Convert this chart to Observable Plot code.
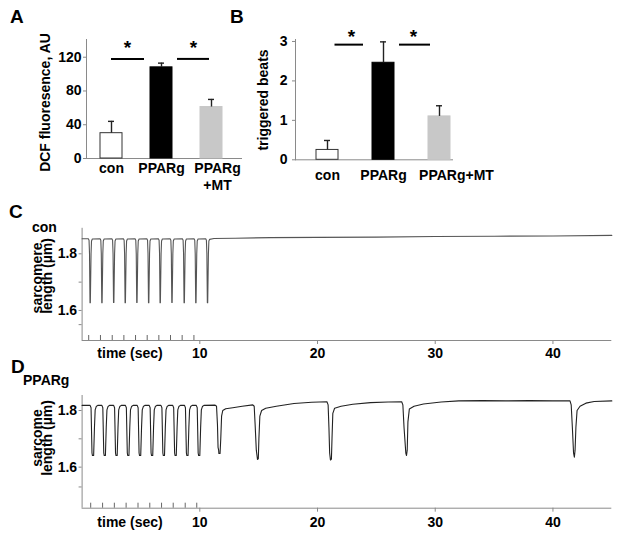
<!DOCTYPE html>
<html><head><meta charset="utf-8">
<script src="https://cdn.jsdelivr.net/npm/d3@7"></script>
<script src="https://cdn.jsdelivr.net/npm/@observablehq/plot@0.6"></script>
<style>
body{margin:0;background:#fff;}
#fig{position:relative;width:621px;height:537px;overflow:hidden;background:#fff;}
#fig > div{position:absolute;}
</style></head><body><div id="fig"></div>
<script>
// ---------- data ----------
const categories = ["con", "PPARg", "PPARg+MT"];
const dcfMean = [30, 108, 61];
const dcfErr = [14, 5, 9];
const dcfTicks = [0, 40, 80, 120];
const dcfSigLevel = 118;
const beatsMean = [0.25, 2.46, 1.1];
const beatsErr = [0.24, 0.53, 0.27];
const beatsTicks = [0, 1, 2, 3];
const beatsSigLevel = 2.92;
const sigPairs = [["con", "PPARg"], ["PPARg", "PPARg+MT"]];
const timeTicks = [10, 20, 30, 40];
const lengthTicks = [1.6, 1.8];
const conMinorTicks = [1.7, 1.55];
const pparMinorTicks = [1.7, 1.53];
const conStim = [0.56, 1.56, 2.56, 3.55, 4.54, 5.53, 6.52, 7.51, 8.5, 9.5];
const pparStim = [0.73, 1.74, 2.74, 3.74, 4.75, 5.75, 6.75, 7.74, 8.76, 9.74];
const conTrace = [
  [0,1.853],[0.53,1.853],[0.59,1.848],[0.63,1.80],[0.67,1.627],[0.70,1.627],[0.76,1.80],[0.80,1.845],[0.87,1.852],
  [1.53,1.853],[1.59,1.848],[1.63,1.80],[1.67,1.627],[1.70,1.627],[1.76,1.80],[1.80,1.845],[1.87,1.852],
  [2.53,1.853],[2.59,1.848],[2.63,1.80],[2.67,1.628],[2.70,1.628],[2.76,1.80],[2.80,1.845],[2.87,1.852],
  [3.51,1.853],[3.57,1.848],[3.61,1.80],[3.65,1.627],[3.68,1.627],[3.74,1.80],[3.78,1.845],[3.85,1.852],
  [4.50,1.853],[4.56,1.848],[4.60,1.80],[4.64,1.628],[4.67,1.628],[4.73,1.80],[4.77,1.845],[4.84,1.852],
  [5.50,1.853],[5.56,1.848],[5.60,1.80],[5.64,1.627],[5.67,1.627],[5.73,1.80],[5.77,1.845],[5.84,1.852],
  [6.48,1.853],[6.54,1.848],[6.58,1.80],[6.62,1.627],[6.65,1.627],[6.71,1.80],[6.75,1.845],[6.82,1.852],
  [7.48,1.853],[7.54,1.848],[7.58,1.80],[7.62,1.628],[7.65,1.628],[7.71,1.80],[7.75,1.845],[7.82,1.852],
  [8.52,1.853],[8.58,1.848],[8.62,1.80],[8.66,1.627],[8.69,1.627],[8.75,1.80],[8.79,1.845],[8.86,1.852],
  [9.51,1.853],[9.57,1.848],[9.61,1.80],[9.65,1.627],[9.68,1.627],[9.74,1.80],[9.78,1.845],[9.85,1.852],
  [10.50,1.853],[10.56,1.848],[10.60,1.80],[10.64,1.627],[10.67,1.627],[10.73,1.80],[10.77,1.845],[10.84,1.851],
  [11.2,1.854],[13,1.855],[16,1.857],[20,1.858],[25,1.859],[30,1.861],[35,1.862],[40,1.863],[45,1.865]
];
const pparTrace = [
  [0,1.818],
  [0.68,1.818],[0.76,1.81],[0.84,1.65],[0.88,1.641],[0.98,1.641],[1.05,1.74],[1.11,1.802],[1.20,1.814],[1.33,1.818],
  [1.68,1.818],[1.76,1.81],[1.84,1.65],[1.88,1.641],[1.98,1.641],[2.05,1.74],[2.11,1.802],[2.20,1.814],[2.33,1.818],
  [2.68,1.818],[2.76,1.81],[2.84,1.65],[2.88,1.641],[2.98,1.641],[3.05,1.74],[3.11,1.802],[3.20,1.814],[3.33,1.818],
  [3.68,1.818],[3.76,1.81],[3.84,1.65],[3.88,1.641],[3.98,1.641],[4.05,1.74],[4.11,1.802],[4.20,1.814],[4.33,1.818],
  [4.68,1.818],[4.76,1.81],[4.84,1.65],[4.88,1.641],[4.98,1.641],[5.05,1.74],[5.11,1.802],[5.20,1.814],[5.33,1.818],
  [5.70,1.818],[5.78,1.81],[5.86,1.65],[5.90,1.641],[6.00,1.641],[6.07,1.74],[6.13,1.802],[6.22,1.814],[6.35,1.818],
  [6.70,1.818],[6.78,1.81],[6.86,1.65],[6.90,1.641],[7.00,1.641],[7.07,1.74],[7.13,1.802],[7.22,1.814],[7.35,1.818],
  [7.70,1.818],[7.78,1.81],[7.86,1.65],[7.90,1.641],[8.00,1.641],[8.07,1.74],[8.13,1.802],[8.22,1.814],[8.35,1.818],
  [8.70,1.818],[8.78,1.81],[8.86,1.65],[8.90,1.641],[9.00,1.641],[9.07,1.74],[9.13,1.802],[9.22,1.814],[9.35,1.818],
  [9.70,1.818],[9.78,1.81],[9.86,1.65],[9.90,1.641],[10.00,1.641],[10.07,1.74],[10.13,1.802],[10.22,1.814],[10.35,1.818],
  [11.3,1.819],[11.42,1.815],[11.5,1.75],[11.55,1.67],[11.6,1.66],[11.62,1.648],[11.72,1.648],[11.78,1.70],[11.85,1.78],
  [11.95,1.80],[12.2,1.806],[12.8,1.81],[13.6,1.815],[14.5,1.82],[14.62,1.815],[14.7,1.75],[14.8,1.66],[14.9,1.627],
  [14.97,1.63],[15.02,1.70],[15.1,1.78],[15.25,1.80],[15.6,1.808],[16.5,1.815],[18,1.825],[19.5,1.829],[20.8,1.831],
  [20.9,1.82],[20.97,1.74],[21.03,1.65],[21.1,1.625],[21.18,1.628],[21.23,1.70],[21.3,1.79],[21.45,1.808],[22,1.815],
  [23,1.822],[24.5,1.828],[26,1.83],[27.15,1.831],[27.25,1.82],[27.35,1.74],[27.5,1.65],[27.56,1.641],[27.62,1.66],
  [27.68,1.76],[27.8,1.805],[28.2,1.815],[29,1.823],[30.5,1.83],[32,1.834],[34,1.835],[36,1.834],[38,1.835],[40,1.834],
  [41.45,1.834],[41.55,1.82],[41.65,1.74],[41.75,1.65],[41.82,1.635],[41.88,1.66],[41.95,1.74],[42.05,1.80],[42.3,1.815],
  [42.8,1.826],[43.5,1.832],[45,1.834]
];

// ---------- styles ----------
const FONTFAM = '"Liberation Sans", Arial, Helvetica, sans-serif';
const STYLE = {fontFamily: FONTFAM, fontSize: "14px", fontWeight: "bold", color: "#000", background: "transparent", overflow: "visible"};
const AXIS = "#8a8a8a";
const barFill = {"con": "#ffffff", "PPARg": "#000000", "PPARg+MT": "#c8c8c8"};
const fig = document.getElementById("fig");
function place(el, left, top) {
  const d = document.createElement("div");
  d.style.left = left + "px"; d.style.top = top + "px";
  d.appendChild(el); fig.appendChild(d);
}

function barPanel(o) {
  const rows = categories.map((c, i) => ({cat: c, mean: o.mean[i], err: o.err[i]}));
  const lastLabel = o.split
    ? [Plot.axisX({ticks: categories.slice(2), tickSize: 0, tickPadding: o.xtp, tickFormat: d => d.split("+")[0], dx: o.lastDx, label: null, fontSize: 14}),
       Plot.axisX({ticks: categories.slice(2), tickSize: 0, tickPadding: o.xtp, tickFormat: d => "+" + d.split("+")[1], dx: o.lastDx, dy: 17, label: null, fontSize: 14})]
    : [Plot.axisX({ticks: categories.slice(2), tickSize: 0, tickPadding: o.xtp, dx: o.lastDx, label: null, fontSize: 14})];
  return Plot.plot({
    width: o.width, height: o.height,
    marginLeft: o.ml, marginRight: o.mr, marginTop: o.mt, marginBottom: o.mb,
    x: {domain: categories, paddingInner: o.pi, paddingOuter: o.po, align: o.align},
    y: {domain: o.ydomain},
    style: STYLE,
    marks: [
      Plot.frame({anchor: "left", stroke: AXIS}),
      Plot.ruleY([0], {stroke: AXIS}),
      Plot.axisY({ticks: o.ticks, tickSize: 3, tickPadding: o.ytp, tickFormat: "d", stroke: AXIS, label: null, fontSize: 14}),
      Plot.axisX({ticks: categories.slice(0, 2), tickSize: 0, tickPadding: o.xtp, label: null, fontSize: 14}),
      ...lastLabel,
      Plot.barY(rows, {x: "cat", y: "mean", fill: d => barFill[d.cat],
        stroke: d => d.cat === "con" ? "#333333" : barFill[d.cat], strokeWidth: 1}),
      Plot.ruleX(rows, {x: "cat", y1: "mean", y2: d => d.mean + d.err, stroke: "#222", strokeWidth: 1.4}),
      Plot.tickY(rows, {x: "cat", y: d => d.mean + d.err, inset: 8, stroke: "#222", strokeWidth: 1.4}),
      Plot.ruleY([sigPairs[0]], {x1: d => d[0], x2: d => d[1], y: () => o.sig, insetLeft: o.b1[0], insetRight: o.b1[1], stroke: "#000", strokeWidth: 2}),
      Plot.ruleY([sigPairs[1]], {x1: d => d[0], x2: d => d[1], y: () => o.sig, insetLeft: o.b2[0], insetRight: o.b2[1], stroke: "#000", strokeWidth: 2}),
      Plot.text([sigPairs[0]], {x: d => d[0], y: () => o.sig, text: () => "*", dx: o.a1, dy: o.ady, fontSize: 19, fontWeight: "bold"}),
      Plot.text([sigPairs[1]], {x: d => d[0], y: () => o.sig, text: () => "*", dx: o.a2, dy: o.ady, fontSize: 19, fontWeight: "bold"})
    ]
  });
}

place(barPanel({width: 250, height: 195, ml: 86, mr: 8, mt: 39, mb: 37, pi: 0.56, po: 0.34, align: 0.41,
  ydomain: [0, 141], mean: dcfMean, err: dcfErr, ticks: dcfTicks, ytp: 2, xtp: 5,
  split: true, lastDx: 6,
  sig: dcfSigLevel, b1: [11, 28], b2: [27, 13], a1: 16, a2: 32, ady: -11}), 0, 0);

place(barPanel({width: 250, height: 195, ml: 45, mr: 47, mt: 39, mb: 35.7, pi: 0.6, po: 0.186, align: 0.87,
  ydomain: [0, 3.05], mean: beatsMean, err: beatsErr, ticks: beatsTicks, ytp: 5, xtp: 10,
  split: false, lastDx: 17,
  sig: beatsSigLevel, b1: [18.5, 31], b2: [27, 20], a1: 24, a2: 30, ady: -8}), 250, 0);

function tracePanel(o) {
  const ph = o.height - o.mt - o.mb;
  return Plot.plot({
    width: 621, height: o.height,
    marginLeft: 81.6, marginRight: 9.7, marginTop: o.mt, marginBottom: o.mb,
    x: {domain: [0, 45]},
    y: {domain: o.ydomain},
    style: STYLE,
    marks: [
      Plot.ruleY([o.ydomain[0]], {stroke: AXIS}),
      Plot.ruleX([0], {stroke: AXIS}),
      Plot.axisX({ticks: timeTicks, tickSize: 4, tickPadding: o.xtp, stroke: AXIS, label: null, fontSize: 14}),
      Plot.axisY({ticks: lengthTicks, tickSize: 3, tickPadding: 2, tickFormat: ".1f", stroke: AXIS, label: null, fontSize: 14}),
      Plot.axisY({ticks: o.minor, tickSize: 3, tickFormat: () => "", stroke: AXIS, label: null}),
      Plot.ruleX(o.stim, {insetTop: ph - 5, stroke: "#666"}),
      Plot.line(o.trace, {x: d => d[0], y: d => d[1], stroke: o.color, strokeWidth: 1.1})
    ]
  });
}

place(tracePanel({height: 175, mt: 27.8, mb: 35, ydomain: [1.494, 1.89], xtp: 4,
  minor: conMinorTicks, stim: conStim, trace: conTrace, color: "#555"}), 0, 200);
place(tracePanel({height: 152, mt: 10, mb: 29.3, ydomain: [1.455, 1.853], xtp: 5,
  minor: pparMinorTicks, stim: pparStim, trace: pparTrace, color: "#222"}), 0, 385);

// ---------- text overlay ----------
const svg = d3.create("svg").attr("width", 621).attr("height", 537)
  .style("position", "absolute").style("left", 0).style("top", 0)
  .style("font-family", FONTFAM).style("font-weight", "bold").style("pointer-events", "none");
function txt(s, x, y, size, anchor = "start", rot = 0) {
  svg.append("text").attr("transform", `translate(${x},${y}) rotate(${rot})`)
    .attr("text-anchor", anchor).attr("font-size", size).attr("fill", "#000").text(s);
}
txt("A", 10, 23, 19);
txt("B", 230, 23, 19);
txt("C", 9, 218, 19);
txt("D", 11, 373, 19);
txt("con", 32, 232, 14);
txt("PPARg", 23, 385, 14);
txt("DCF fluoresence, AU", 50, 102.5, 14, "middle", -90);
txt("triggered beats", 268, 100, 14, "middle", -90);
txt("sarcomere", 41.7, 278, 14, "middle", -90);
txt("length (\u00b5m)", 51.5, 276, 14, "middle", -90);
txt("sarcome", 41.7, 438, 14, "middle", -90);
txt("length (\u00b5m)", 51.5, 438, 14, "middle", -90);
txt("time (sec)", 130, 358, 14, "middle");
txt("time (sec)", 130, 527, 14, "middle");
fig.appendChild(svg.node());
</script></body></html>
